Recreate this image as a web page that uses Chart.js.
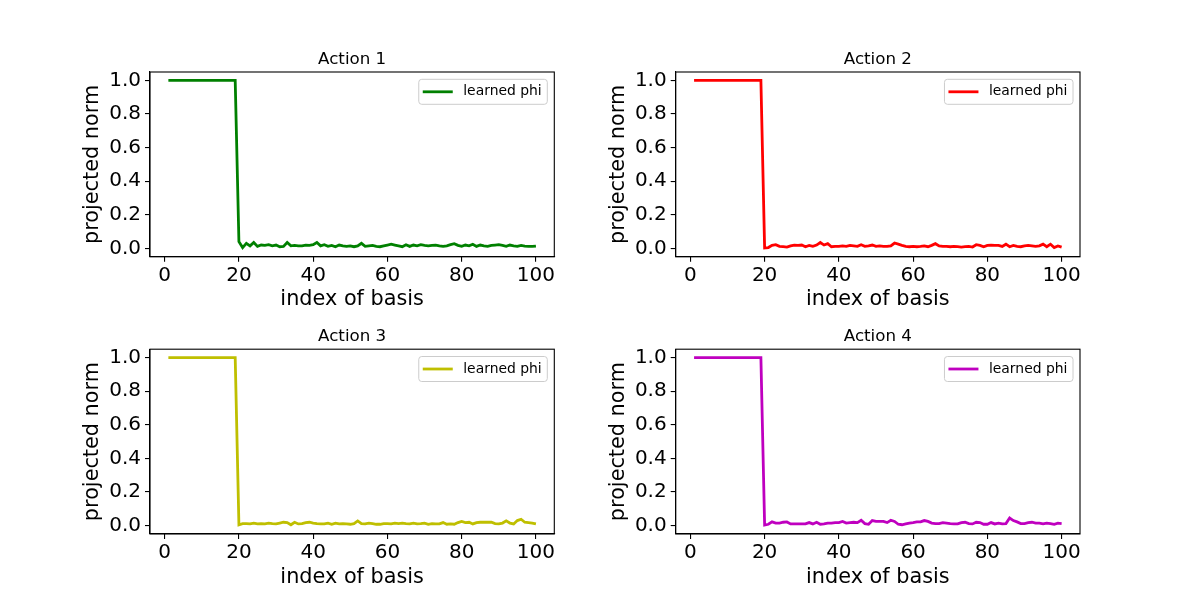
<!DOCTYPE html>
<html>
<head>
<meta charset="utf-8">
<script src="https://cdn.jsdelivr.net/npm/chart.js@4/dist/chart.umd.min.js"></script>
<style>
  html, body { margin: 0; padding: 0; background: #fff; }
  #wrap { position: relative; width: 1200px; height: 600px; }
  #wrap canvas { position: absolute; left: 0; top: 0; }
</style>
</head>
<body>
<div id="wrap">
  <canvas id="act1" width="1200" height="600"></canvas>
  <canvas id="act2" width="1200" height="600"></canvas>
  <canvas id="act3" width="1200" height="600"></canvas>
  <canvas id="act4" width="1200" height="600"></canvas>
</div>
<script>
// index of basis 1..100
var basisIndex = [];
for (var i = 1; i <= 100; i++) basisIndex.push(i);

var xTicks = [0, 20, 40, 60, 80, 100];
var yTicks = [0.0, 0.2, 0.4, 0.6, 0.8, 1.0];
var titles = ["Action 1", "Action 2", "Action 3", "Action 4"];
var seriesLabel = "learned phi";
var lineColors = ["#008000", "#ff0000", "#bfbf00", "#bf00bf"];

var action1 = [
    1, 1, 1, 1, 1, 1, 1, 1, 1, 1, 1, 1, 1, 1, 1, 1, 1, 1, 1,
    0.040, 0.005, 0.030, 0.015, 0.035, 0.012, 0.020, 0.018, 0.022, 0.015,
    0.020, 0.010, 0.012, 0.035, 0.015, 0.018, 0.015, 0.015, 0.020, 0.018,
    0.022, 0.035, 0.015, 0.022, 0.012, 0.018, 0.010, 0.020, 0.015, 0.012,
    0.015, 0.010, 0.015, 0.030, 0.012, 0.015, 0.018, 0.012, 0.010, 0.015,
    0.020, 0.025, 0.020, 0.015, 0.010, 0.022, 0.012, 0.020, 0.015, 0.022,
    0.018, 0.015, 0.018, 0.020, 0.015, 0.012, 0.015, 0.022, 0.028, 0.018,
    0.012, 0.020, 0.015, 0.025, 0.012, 0.020, 0.015, 0.012, 0.018, 0.020,
    0.022, 0.018, 0.012, 0.020, 0.015, 0.012, 0.018, 0.014, 0.012, 0.012,
    0.014
];
var action2 = [
    1, 1, 1, 1, 1, 1, 1, 1, 1, 1, 1, 1, 1, 1, 1, 1, 1, 1, 1,
    0.003, 0.005, 0.018, 0.022, 0.012, 0.010, 0.008, 0.015, 0.020, 0.018,
    0.020, 0.010, 0.018, 0.012, 0.020, 0.035, 0.020, 0.028, 0.010, 0.012,
    0.012, 0.015, 0.012, 0.018, 0.015, 0.012, 0.022, 0.012, 0.015, 0.020,
    0.012, 0.015, 0.012, 0.012, 0.015, 0.032, 0.025, 0.018, 0.012, 0.010,
    0.012, 0.010, 0.012, 0.015, 0.010, 0.018, 0.028, 0.015, 0.012, 0.012,
    0.010, 0.012, 0.010, 0.008, 0.010, 0.012, 0.008, 0.022, 0.018, 0.010,
    0.018, 0.020, 0.018, 0.018, 0.012, 0.025, 0.010, 0.018, 0.012, 0.010,
    0.015, 0.018, 0.015, 0.012, 0.015, 0.025, 0.010, 0.025, 0.005, 0.015,
    0.008
];
var action3 = [
    1, 1, 1, 1, 1, 1, 1, 1, 1, 1, 1, 1, 1, 1, 1, 1, 1, 1, 1,
    0.005, 0.012, 0.012, 0.010, 0.015, 0.010, 0.012, 0.010, 0.015, 0.012,
    0.010, 0.015, 0.020, 0.018, 0.005, 0.020, 0.010, 0.012, 0.018, 0.020,
    0.015, 0.012, 0.010, 0.010, 0.015, 0.008, 0.015, 0.010, 0.012, 0.010,
    0.008, 0.012, 0.028, 0.012, 0.010, 0.015, 0.012, 0.008, 0.008, 0.012,
    0.012, 0.010, 0.015, 0.012, 0.015, 0.012, 0.010, 0.015, 0.010, 0.012,
    0.015, 0.008, 0.012, 0.010, 0.010, 0.018, 0.008, 0.010, 0.008, 0.018,
    0.025, 0.018, 0.020, 0.010, 0.018, 0.020, 0.020, 0.020, 0.020, 0.012,
    0.010, 0.015, 0.028, 0.015, 0.010, 0.030, 0.038, 0.020, 0.018, 0.015,
    0.010
];
var action4 = [
    1, 1, 1, 1, 1, 1, 1, 1, 1, 1, 1, 1, 1, 1, 1, 1, 1, 1, 1,
    0.003, 0.008, 0.022, 0.015, 0.015, 0.020, 0.022, 0.010, 0.010, 0.010,
    0.010, 0.010, 0.018, 0.010, 0.020, 0.008, 0.010, 0.015, 0.015, 0.018,
    0.018, 0.025, 0.015, 0.018, 0.020, 0.018, 0.032, 0.012, 0.008, 0.030,
    0.025, 0.025, 0.025, 0.018, 0.032, 0.025, 0.008, 0.005, 0.010, 0.015,
    0.018, 0.022, 0.022, 0.030, 0.025, 0.015, 0.012, 0.012, 0.018, 0.015,
    0.012, 0.010, 0.010, 0.018, 0.020, 0.012, 0.010, 0.020, 0.018, 0.008,
    0.008, 0.018, 0.010, 0.015, 0.010, 0.012, 0.045, 0.030, 0.022, 0.012,
    0.012, 0.018, 0.020, 0.015, 0.015, 0.010, 0.015, 0.012, 0.008, 0.015,
    0.012
];
var allSeries = [action1, action2, action3, action4];

Chart.defaults.font.family = "'DejaVu Sans', sans-serif";
Chart.defaults.color = "#000";

// subplot boxes (matplotlib-like grid)
var colLeft = [150, 675.7], colRight = [554.3, 1080];
var rowTop = [72, 349.2], rowBottom = [256.8, 534];
var yAxisW = 69.5, xAxisH = 55.7;

// spines, title and the in-axes legend
var axesDecor = {
    id: 'axesDecor',
    afterDraw: function(chart, args, opts) {
        var ctx = chart.ctx, ca = chart.chartArea;
        ctx.save();
        ctx.strokeStyle = '#000';
        ctx.lineWidth = 1.1;
        ctx.strokeRect(ca.left, ca.top, ca.right - ca.left, ca.bottom - ca.top);

        ctx.fillStyle = '#000';
        ctx.font = "16.7px 'DejaVu Sans'";
        ctx.textAlign = 'center';
        ctx.textBaseline = 'alphabetic';
        ctx.fillText(opts.title, (ca.left + ca.right) / 2, ca.top - 8.3);

        var ds = chart.data.datasets[0];
        ctx.font = "13.9px 'DejaVu Sans'";
        var tw = ctx.measureText(ds.label).width;
        var w = 5.6 + 27.8 + 11.1 + tw + 5.6, h = 25;
        var bx = ca.right - 7 - w, by = ca.top + 7.3;
        ctx.beginPath();
        ctx.roundRect(bx, by, w, h, 3);
        ctx.fillStyle = 'rgba(255,255,255,0.8)';
        ctx.fill();
        ctx.strokeStyle = '#cccccc';
        ctx.lineWidth = 1;
        ctx.stroke();
        ctx.beginPath();
        ctx.strokeStyle = ds.borderColor;
        ctx.lineWidth = 2.8;
        ctx.moveTo(bx + 4, by + h / 2);
        ctx.lineTo(bx + 4 + 30, by + h / 2);
        ctx.stroke();
        ctx.fillStyle = '#000';
        ctx.textAlign = 'left';
        ctx.textBaseline = 'middle';
        ctx.fillText(ds.label, bx + 5.6 + 27.8 + 11.1, by + h / 2);
        ctx.restore();
    }
};

function makeChart(id, k) {
    var r = Math.floor(k / 2), c = k % 2;
    var pts = basisIndex.map(function(x, j) { return {x: x, y: allSeries[k][j]}; });
    var ctx = document.getElementById(id).getContext("2d");
    return new Chart(ctx, {
        type: 'line',
        data: {
            datasets: [{
                label: seriesLabel,
                data: pts,
                borderColor: lineColors[k],
                backgroundColor: lineColors[k],
                borderWidth: 2.8,
                pointRadius: 0,
                tension: 0,
                fill: false
            }]
        },
        plugins: [axesDecor],
        options: {
            responsive: false,
            animation: false,
            devicePixelRatio: 1,
            layout: {
                padding: {
                    left: colLeft[c] - yAxisW,
                    right: 1200 - colRight[c],
                    top: rowTop[r],
                    bottom: 600 - rowBottom[r] - xAxisH
                }
            },
            plugins: {
                legend: { display: false },
                title: { display: false },
                tooltip: { enabled: false },
                axesDecor: { title: titles[k] }
            },
            scales: {
                x: {
                    type: 'linear',
                    min: -3.95,
                    max: 104.95,
                    afterBuildTicks: function(s) { s.ticks = xTicks.map(function(v) { return {value: v}; }); },
                    afterFit: function(s) { s.height = xAxisH; },
                    grid: { display: true, drawOnChartArea: false, drawTicks: true, tickLength: 5, color: '#000', lineWidth: 1.1 },
                    border: { display: true, color: '#000', width: 1.1 },
                    ticks: { font: { size: 20 }, padding: 2, maxRotation: 0, color: '#000' },
                    title: { display: true, text: 'index of basis', font: { size: 20.8 }, padding: 0, color: '#000' }
                },
                y: {
                    min: -0.05,
                    max: 1.05,
                    afterBuildTicks: function(s) { s.ticks = yTicks.map(function(v) { return {value: v}; }); },
                    afterFit: function(s) { s.width = yAxisW; },
                    grid: { display: true, drawOnChartArea: false, drawTicks: true, tickLength: 5, color: '#000', lineWidth: 1.1 },
                    border: { display: true, color: '#000', width: 1.1 },
                    ticks: { font: { size: 20 }, padding: 4, color: '#000', callback: function(v) { return v.toFixed(1); } },
                    title: { display: true, text: 'projected norm', font: { size: 20.8 }, padding: 0, color: '#000' }
                }
            }
        }
    });
}

var chart1 = makeChart("act1", 0);
var chart2 = makeChart("act2", 1);
var chart3 = makeChart("act3", 2);
var chart4 = makeChart("act4", 3);
</script>
</body>
</html>
